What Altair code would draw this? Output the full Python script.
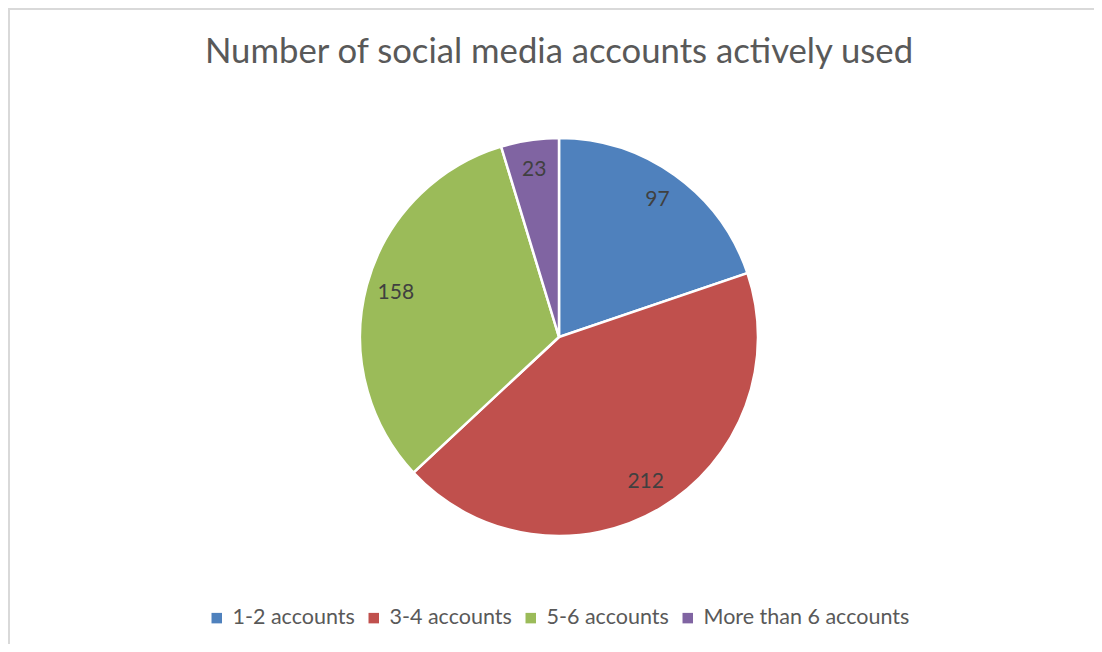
import altair as alt
import pandas as pd

categories = ["1-2 accounts", "3-4 accounts", "5-6 accounts", "More than 6 accounts"]
values = [97, 212, 158, 23]
colors = ["#4F81BD", "#C0504D", "#9BBB59", "#8064A2"]
title_text = "Number of social media accounts actively used"

df = pd.DataFrame({"category": categories, "value": values, "idx": list(range(len(values)))})

W, H = 1086, 636
CX, CY = 551, 329
R = 199
FONT = "Lato"

base = alt.Chart(df).encode(
    theta=alt.Theta("value:Q", stack=True),
    order=alt.Order("idx:O"),
)

pie = base.mark_arc(stroke="white", strokeWidth=2.5, outerRadius=R).encode(
    x=alt.value(CX),
    y=alt.value(CY),
    color=alt.Color(
        "category:N",
        scale=alt.Scale(domain=categories, range=colors),
        legend=alt.Legend(
            title=None,
            orient="none",
            legendX=198,
            legendY=599,
            direction="horizontal",
            columns=4,
            symbolType="square",
            symbolSize=110,
            symbolStrokeWidth=0,
            labelFont=FONT,
            labelFontSize=21.5,
            labelColor="#595959",
            labelOffset=5,
            labelLimit=0,
            columnPadding=8,
        ),
    ),
)

labels = base.mark_text(font=FONT, fontSize=21, color="#404040", radius=169).encode(
    x=alt.value(CX),
    y=alt.value(CY),
    text="value:Q",
)

title = alt.Chart(pd.DataFrame({"t": [title_text]})).mark_text(
    font=FONT, fontSize=34.7, color="#595959", baseline="alphabetic", align="center"
).encode(x=alt.value(CX), y=alt.value(55), text="t:N")

top_line = alt.Chart(pd.DataFrame({"a": [0]})).mark_rule(
    stroke="#D9D9D9", strokeWidth=2
).encode(x=alt.value(0), x2=alt.value(W), y=alt.value(1))

left_line = alt.Chart(pd.DataFrame({"a": [0]})).mark_rule(
    stroke="#D9D9D9", strokeWidth=2
).encode(x=alt.value(1), y=alt.value(0), y2=alt.value(H))

chart = alt.layer(top_line, left_line, pie, labels, title).properties(
    width=W, height=H, padding=0, autosize=alt.AutoSizeParams(type="none")
).configure_view(stroke=None).configure(background="white")

chart.save("out.html", embed_options={"renderer": "svg", "actions": False})
